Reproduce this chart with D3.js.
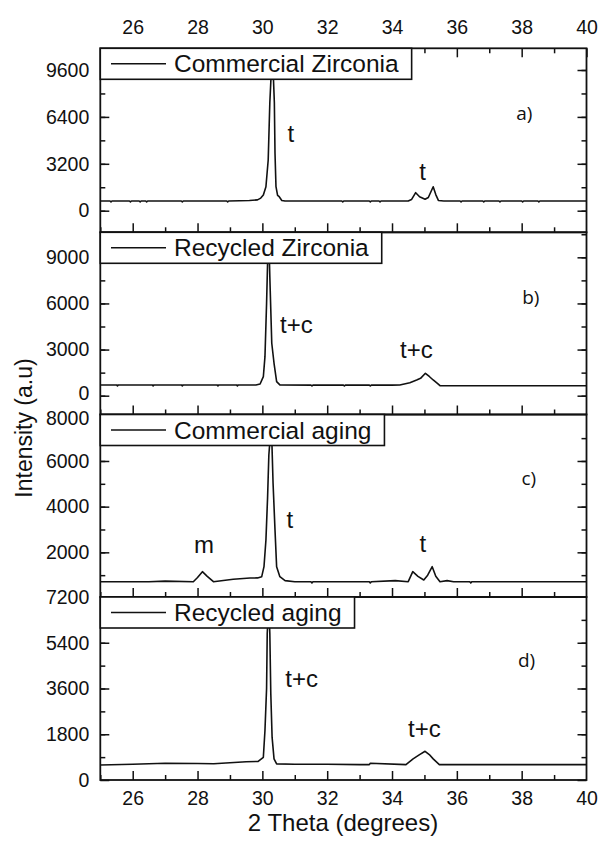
<!DOCTYPE html>
<html><head><meta charset="utf-8">
<script src="https://cdn.jsdelivr.net/npm/d3@7"></script>
<style>body{margin:0;background:#fff}svg{display:block}text{font-family:"Liberation Sans",Arial,sans-serif;fill:#111}</style>
</head><body><svg id="c" width="598" height="847"></svg>
<script>
// ---- data ----
const legendNames = ["Commercial Zirconia","Recycled Zirconia","Commercial aging","Recycled aging"];
const panelLetters = ["a)","b)","c)","d)"];
const xTicks = [26,28,30,32,34,36,38,40];
const yTicksA = [0,3200,6400,9600];
const yTicksB = [0,3000,6000,9000];
const yTicksC = [2000,4000,6000,8000];
const yTicksD = [0,1800,3600,5400,7200];
const yMinorStep = [1600,1500,1000,900];

const thetaA = [25,25.3,25.33,25.36,25.9,25.93,25.96,26.2,26.23,26.26,26.4,26.43,26.46,27.5,27.53,27.56,28.9,28.93,28.96,29.3,29.6,29.85,29.95,30.03,30.11,30.18,30.23,30.28,30.33,30.37,30.39,30.42,30.47,30.52,30.6,30.7,32.45,32.48,32.51,33.3,33.33,33.36,33.6,33.63,33.66,34.5,34.6,34.73,34.85,35.02,35.12,35.27,35.35,35.43,35.6,36.1,36.13,36.16,36.8,36.83,36.86,37.3,37.33,37.36,38.0,38.03,38.06,38.5,38.53,38.56,40];
const intensityA = [660,660,600,660,660,600,660,660,600,660,660,600,660,660,600,660,660,600,660,680,700,740,860,1071,1637,3459,7369,9700,9700,7369,3916,1637,1050,955,700,660,660,600,660,660,600,660,660,600,660,660,760,1228,950,780,900,1637,1100,700,660,660,600,660,660,600,660,660,600,660,660,600,660,660,600,660,660];

const thetaB = [25,25.5,25.53,25.56,26.6,26.63,26.66,27.5,27.53,27.56,28.6,28.63,28.66,29.2,29.23,29.26,29.8,29.93,30.03,30.08,30.13,30.17,30.21,30.23,30.29,30.36,30.44,30.54,31.5,31.53,31.56,32.5,32.53,32.56,33.3,33.33,33.36,34.0,34.24,34.55,34.76,34.88,35.03,35.15,35.27,35.40,35.48,40];
const intensityB = [700,700,640,700,700,640,700,700,640,700,700,640,700,700,640,700,700,760,1236,2538,6013,9400,9400,7745,3410,2108,911,700,690,630,690,690,630,690,690,630,690,690,696,846,1021,1130,1457,1250,1021,800,650,650];

const thetaC = [25,26.5,27.0,27.87,28.0,28.15,28.3,28.49,29.1,29.62,29.85,29.98,30.05,30.11,30.16,30.20,30.24,30.29,30.33,30.39,30.44,30.54,30.7,31.0,31.5,31.53,31.56,33.3,33.33,33.36,34.1,34.5,34.64,34.8,34.98,35.1,35.24,35.35,35.48,35.7,35.9,36.4,36.43,36.46,40];
const intensityC = [714,714,740,714,900,1152,950,714,819,876,880,933,1371,2540,4367,6264,7000,7000,5024,2978,1371,933,760,714,714,660,714,714,660,714,760,714,1152,950,788,1000,1371,950,714,760,714,714,660,714,714];

const thetaD = [25,26,27,28,28.5,29,29.5,29.87,30.03,30.08,30.13,30.15,30.18,30.21,30.23,30.26,30.30,30.36,30.44,31,32,33,33.3,33.33,34.43,34.65,34.85,35.02,35.15,35.27,35.46,40];
const intensityD = [593,620,660,650,640,680,720,730,894,1950,3600,5776,6500,6500,5776,3402,1685,831,633,620,620,605,605,660,605,831,1000,1131,1000,831,605,605];

const annotations = [
  [{t:"t",x:30.88,v:4708},{t:"t",x:34.94,v:2095}],
  [{t:"t+c",x:31.05,v:4078},{t:"t+c",x:34.75,v:2471}],
  [{t:"m",x:28.2,v:1971},{t:"t",x:30.85,v:3066},{t:"t",x:34.95,v:2028}],
  [{t:"t+c",x:31.21,v:3670},{t:"t+c",x:35.0,v:1703}]
];
const letterPos = [{x:38.08,v:6188},{x:38.28,v:5964},{x:38.22,v:4948},{x:38.15,v:4446}];

// ---- layout ----
const svg = d3.select("#c");
const L = 100.3, R = 586.5;
const x = d3.scaleLinear().domain([25,40]).range([L,R]);
const tops = [48.3,232.3,414.5,597];
const bots = [232.3,414.5,597,780];
const yDomains = [[-1474,11081],[-1223,10627],[44,8035],[0,7200]];
const yTicks = [yTicksA,yTicksB,yTicksC,yTicksD];
const series = [[thetaA,intensityA],[thetaB,intensityB],[thetaC,intensityC],[thetaD,intensityD]];

function styleAxis(g){
  g.select(".domain").remove();
  g.selectAll("line").attr("stroke","#111").attr("stroke-width",1.5);
  g.selectAll("text").attr("font-size",19.5).attr("font-family","Liberation Sans, Arial, sans-serif").attr("fill","#111");
}

for(let i=0;i<4;i++){
  const y = d3.scaleLinear().domain(yDomains[i]).range([bots[i],tops[i]]);
  const g = svg.append("g");
  const cid = "clip"+i;
  svg.append("clipPath").attr("id",cid).append("rect").attr("x",L).attr("y",tops[i]).attr("width",R-L).attr("height",bots[i]-tops[i]);

  // data line
  const pts = series[i][0].map((t,k)=>[t,series[i][1][k]]);
  g.append("path").datum(pts).attr("clip-path",`url(#${cid})`)
    .attr("fill","none").attr("stroke","#111").attr("stroke-width",1.6).attr("stroke-linejoin","round")
    .attr("d",d3.line().x(d=>x(d[0])).y(d=>y(d[1])));

  // y minor ticks
  const st = yMinorStep[i];
  const minor = d3.range(Math.ceil(yDomains[i][0]/st)*st, yDomains[i][1], st).filter(v=>y(v)>tops[i]+1 && y(v)<bots[i]-1);
  g.append("g").attr("transform",`translate(${L},0)`).call(d3.axisLeft(y).tickValues(minor).tickSize(-5).tickFormat("")).call(styleAxis);
  g.append("g").attr("transform",`translate(${R},0)`).call(d3.axisRight(y).tickValues(minor).tickSize(-5).tickFormat("")).call(styleAxis);
  // y major ticks with labels
  const ya = g.append("g").attr("transform",`translate(${L},0)`).call(d3.axisLeft(y).tickValues(yTicks[i]).tickSize(-9).tickPadding(11).tickFormat(d3.format("d"))).call(styleAxis);
  // keep stacked boundary labels (b "0" / c "8000") from colliding
  if(i===1) ya.selectAll(".tick").filter(d=>d===0).select("text").attr("dy","0.2em");
  if(i===2) ya.selectAll(".tick").filter(d=>d===8000).select("text").attr("dy","0.45em");
  g.append("g").attr("transform",`translate(${R},0)`).call(d3.axisRight(y).tickValues(yTicks[i].filter(v=>y(v)>tops[i]+1)).tickSize(-9).tickFormat("")).call(styleAxis);

  // x ticks bottom (inward)
  const xMinor = d3.range(25,41,1).filter(v=>v%2===1);
  g.append("g").attr("transform",`translate(0,${bots[i]})`).call(d3.axisBottom(x).tickValues(xMinor).tickSize(-5).tickFormat("")).call(styleAxis);
  g.append("g").attr("transform",`translate(0,${bots[i]})`)
    .call(d3.axisBottom(x).tickValues(xTicks.filter(v=>v<40)).tickSize(-9).tickPadding(11).tickFormat(i===3?d3.format("d"):""))
    .call(styleAxis);
  if(i===3){
    g.append("g").attr("transform",`translate(0,${bots[i]})`).call(d3.axisBottom(x).tickValues([40]).tickSize(0).tickPadding(11).tickFormat(d3.format("d"))).call(styleAxis);
  }
  if(i===0){
    g.append("g").attr("transform",`translate(0,${tops[i]})`).call(d3.axisTop(x).tickValues(xMinor).tickSize(-5).tickFormat("")).call(styleAxis);
    g.append("g").attr("transform",`translate(0,${tops[i]})`)
      .call(d3.axisTop(x).tickValues(xTicks).tickSize(-9).tickPadding(14).tickFormat(d3.format("d")))
      .call(styleAxis);
  }

  // frame
  g.append("rect").attr("x",L).attr("y",tops[i]).attr("width",R-L).attr("height",bots[i]-tops[i])
    .attr("fill","none").attr("stroke","#111").attr("stroke-width",1.8);

  // legend box
  const lg = svg.append("g");
  const lb = lg.append("rect").attr("x",L).attr("y",tops[i]).attr("height",31).attr("fill","#fff").attr("stroke","#111").attr("stroke-width",1.6);
  lg.append("line").attr("x1",111).attr("x2",166).attr("y1",tops[i]+15.5).attr("y2",tops[i]+15.5).attr("stroke","#111").attr("stroke-width",1.6);
  const lt = lg.append("text").attr("x",174).attr("y",tops[i]+24).attr("font-size",24.5).text(legendNames[i]);
  const tw = lt.node().getComputedTextLength();
  lb.attr("width",174+tw+13-L);

  // annotations
  annotations[i].forEach(a=>{
    svg.append("text").attr("x",x(a.x)).attr("y",y(a.v)).attr("text-anchor","middle").attr("font-size",24).text(a.t);
  });
  svg.append("text").attr("x",x(letterPos[i].x)).attr("y",y(letterPos[i].v)).attr("text-anchor","middle")
    .style("font-family","'Open Sans', sans-serif").attr("font-size",19).text(panelLetters[i]);
}

// axis titles
svg.append("text").attr("transform","translate(32,428) rotate(-90)").attr("text-anchor","middle").attr("font-size",23).text("Intensity (a.u)");
svg.append("text").attr("x",343).attr("y",831).attr("text-anchor","middle").attr("font-size",24).text("2 Theta (degrees)");
</script></body></html>
